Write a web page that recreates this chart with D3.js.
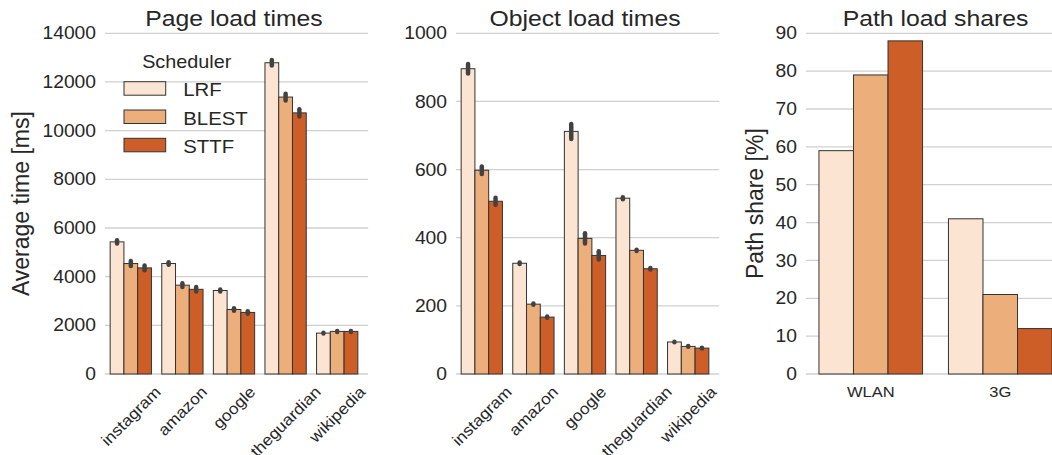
<!DOCTYPE html>
<html>
<head>
<meta charset="utf-8">
<script src="https://cdn.jsdelivr.net/npm/d3@7"></script>
<style>
  html, body { margin: 0; padding: 0; background: #fff; }
  svg { display: block; font-family: Arial, "Liberation Sans", sans-serif; fill: #262626; }
</style>
</head>
<body>
<div id="chart"></div>
<script>
// Data
const schedulers = ['LRF', 'BLEST', 'STTF'];
const sites = ['instagram', 'amazon', 'google', 'theguardian', 'wikipedia'];
const paths = ['WLAN', '3G'];

// Page load times [ms], one array per scheduler (same order as sites)
const pageLRF = [5430, 4540, 3430, 12790, 1680];
const pageBLEST = [4540, 3650, 2650, 11380, 1750];
const pageSTTF = [4360, 3480, 2530, 10730, 1750];
// half width of the confidence interval [ms]
const pageErrLRF = [70, 50, 40, 110, 20];
const pageErrBLEST = [100, 80, 50, 140, 20];
const pageErrSTTF = [100, 90, 50, 150, 20];

// Object load times [ms]
const objLRF = [896, 325, 712, 516, 94];
const objBLEST = [598, 205, 398, 363, 81];
const objSTTF = [507, 167, 348, 309, 76];
const objErrLRF = [14, 2, 22, 3, 1];
const objErrBLEST = [11, 2, 15, 2, 1];
const objErrSTTF = [10, 2, 12, 2, 1];

// Path load shares [%] (WLAN, 3G)
const shareLRF = [59, 41];
const shareBLEST = [79, 21];
const shareSTTF = [88, 12];

const pageTicks = [0, 2000, 4000, 6000, 8000, 10000, 12000, 14000];
const objTicks = [0, 200, 400, 600, 800, 1000];
const shareTicks = [0, 10, 20, 30, 40, 50, 60, 70, 80, 90];

const colors = ['#fbe4d1', '#ecae7a', '#cd5e28'];

const W = 1052;
const H = 455;
const yTop = 33.3;
const yBottom = 374;
const sx = 1.1; // the glyphs in the figure are a bit wider than plain Arial
const fontFamily = 'Arial, "Liberation Sans", sans-serif';

const svg = d3.select('#chart').append('svg')
  .attr('width', W)
  .attr('height', H);

function hText(g, str, x, y, size, anchor) {
  return g.append('text')
    .attr('transform', `translate(${x},${y}) scale(${sx},1)`)
    .attr('text-anchor', anchor)
    .style('font-size', `${size}px`)
    .text(str);
}

function drawPanel({
  x0, x1, yMax, ticks, cats, series, errs, title, ylabel, ylabelX, rotate,
}) {
  const g = svg.append('g');

  const x = d3.scaleBand()
    .domain(cats)
    .range([x0, x1])
    .paddingInner(0.2)
    .paddingOuter(0.1);
  const xSub = d3.scaleBand()
    .domain(schedulers)
    .range([0, x.bandwidth()]);
  const y = d3.scaleLinear()
    .domain([0, yMax])
    .range([yBottom, yTop]);

  // grid
  g.append('g')
    .selectAll('line')
    .data(ticks)
    .join('line')
    .attr('x1', x0)
    .attr('x2', x1 + (x.step() * 0.1))
    .attr('y1', (d) => y(d))
    .attr('y2', (d) => y(d))
    .attr('stroke', '#d0d0d0')
    .attr('stroke-width', 1.3);

  // y tick labels
  const axis = g.append('g')
    .attr('transform', `translate(${x0},0)`)
    .call(d3.axisLeft(y).tickValues(ticks).tickFormat(d3.format('d'))
      .tickSize(0)
      .tickPadding(0));
  axis.select('.domain').remove();
  axis.attr('font-family', fontFamily);
  axis.selectAll('.tick text')
    .attr('x', null)
    .attr('transform', `translate(-9,0) scale(${sx},1)`)
    .attr('fill', '#262626')
    .style('font-size', '17.5px');

  // bars
  schedulers.forEach((s, k) => {
    const vals = series[k];
    g.append('g')
      .selectAll('rect')
      .data(cats)
      .join('rect')
      .attr('x', (c) => x(c) + xSub(s))
      .attr('y', (c, i) => y(vals[i]))
      .attr('width', xSub.bandwidth())
      .attr('height', (c, i) => y(0) - y(vals[i]))
      .attr('fill', colors[k])
      .attr('stroke', '#333')
      .attr('stroke-width', 1);

    if (errs) {
      const e = errs[k];
      g.append('g')
        .selectAll('line')
        .data(cats)
        .join('line')
        .attr('x1', (c) => x(c) + xSub(s) + xSub.bandwidth() / 2)
        .attr('x2', (c) => x(c) + xSub(s) + xSub.bandwidth() / 2)
        .attr('y1', (c, i) => y(vals[i] - e[i]))
        .attr('y2', (c, i) => y(vals[i] + e[i]))
        .attr('stroke', '#424242')
        .attr('stroke-width', 4.5)
        .attr('stroke-linecap', 'round');
    }
  });

  // category labels
  if (rotate) {
    cats.forEach((c) => {
      const cx = x(c) + x.bandwidth() / 2;
      const t = g.append('text')
        .attr('text-anchor', 'middle')
        .attr('dy', '0.35em')
        .style('font-size', '15.8px')
        .text(c);
      const len = t.node().getComputedTextLength() * sx;
      const half = (len + 17) / (2 * Math.SQRT2);
      t.attr('transform', `translate(${cx},${383 + half}) rotate(-45) scale(${sx},1)`);
    });
  } else {
    cats.forEach((c) => {
      hText(g, c, x(c) + x.bandwidth() / 2, 397, 15, 'middle');
    });
  }

  // title
  hText(g, title, (x0 + x1) / 2, 26, 22.5, 'middle');

  if (ylabel) {
    g.append('text')
      .attr('transform', `translate(${ylabelX},${(yTop + yBottom) / 2}) rotate(-90)`)
      .attr('text-anchor', 'middle')
      .style('font-size', '23px')
      .text(ylabel);
  }
  return g;
}

const p1 = drawPanel({
  x0: 105,
  x1: 363,
  yMax: 14000,
  ticks: pageTicks,
  cats: sites,
  series: [pageLRF, pageBLEST, pageSTTF],
  errs: [pageErrLRF, pageErrBLEST, pageErrSTTF],
  title: 'Page load times',
  ylabel: 'Average time [ms]',
  ylabelX: 28.5,
  rotate: true,
});

drawPanel({
  x0: 456,
  x1: 714,
  yMax: 1000,
  ticks: objTicks,
  cats: sites,
  series: [objLRF, objBLEST, objSTTF],
  errs: [objErrLRF, objErrBLEST, objErrSTTF],
  title: 'Object load times',
  rotate: true,
});

drawPanel({
  x0: 806,
  x1: 1065,
  yMax: 90,
  ticks: shareTicks,
  cats: paths,
  series: [shareLRF, shareBLEST, shareSTTF],
  errs: null,
  title: 'Path load shares',
  ylabel: 'Path share [%]',
  ylabelX: 762.5,
  rotate: false,
});

// legend (inside the first panel)
const legend = p1.append('g');
hText(legend, 'Scheduler', 186.7, 68.3, 18, 'middle');
schedulers.forEach((s, k) => {
  const top = 81.7 + k * 28.3;
  legend.append('rect')
    .attr('x', 124)
    .attr('y', top)
    .attr('width', 41.7)
    .attr('height', 13.5)
    .attr('fill', colors[k])
    .attr('stroke', '#333')
    .attr('stroke-width', 1);
  hText(legend, s, 183.3, top + 14.6, 18.5, 'start');
});
</script>
</body>
</html>
